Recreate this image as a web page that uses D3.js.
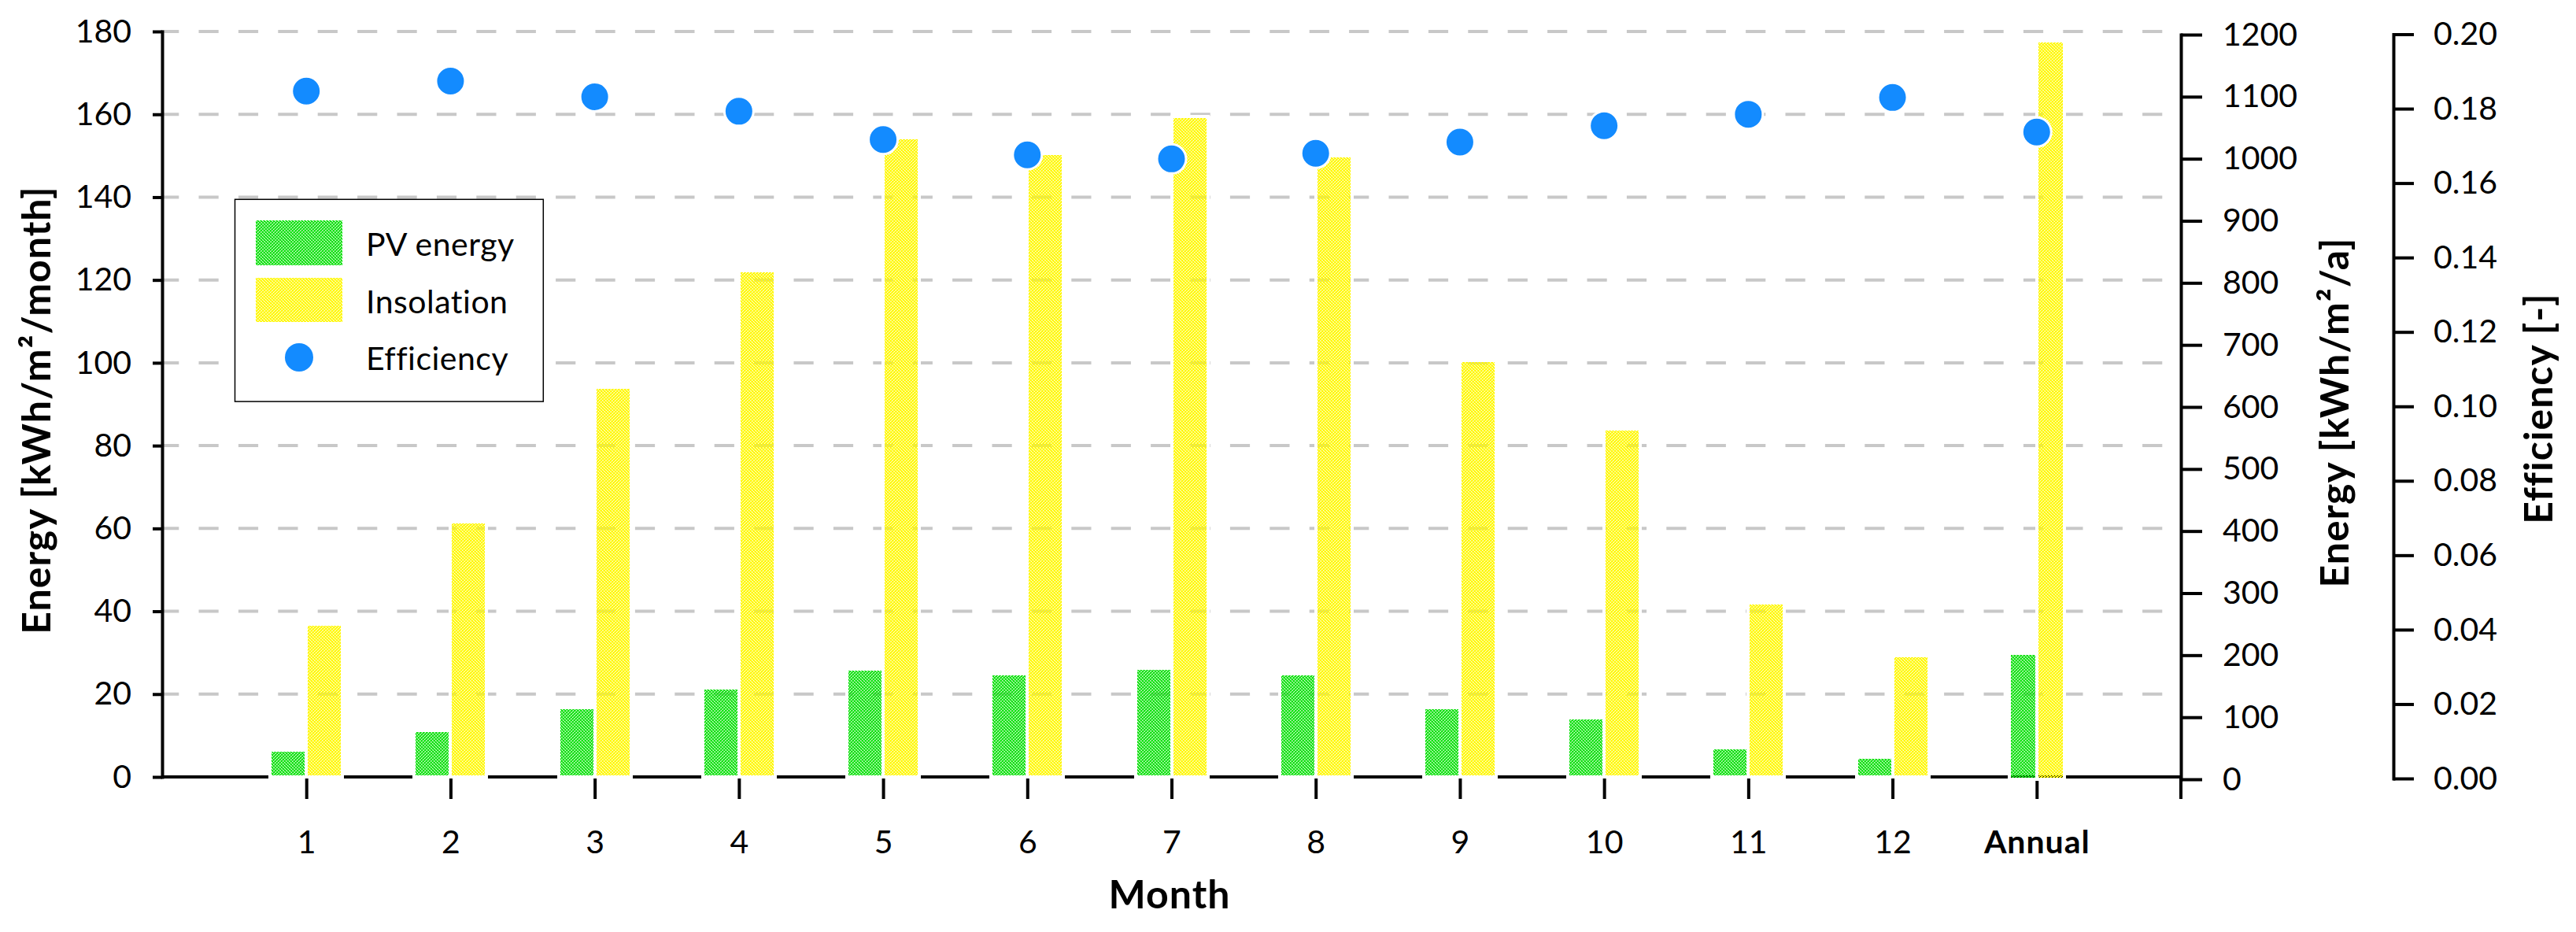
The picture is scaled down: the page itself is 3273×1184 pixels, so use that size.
<!DOCTYPE html>
<html><head><meta charset="utf-8">
<script src="https://cdn.jsdelivr.net/npm/d3@7"></script>
<style>
html,body{margin:0;padding:0;background:#fff;}
svg{display:block;}
text{font-family:Lato,"Open Sans",sans-serif;fill:#000;}
</style></head><body>
<svg id="chart" width="3273" height="1184"></svg>
<script>
// ---- data ----
const categories = ["1","2","3","4","5","6","7","8","9","10","11","12","Annual"];
const pvEnergy   = [6.4, 11.2, 16.8, 21.4, 26.1, 24.9, 26.2, 24.9, 16.8, 14.3, 7.0, 4.8, 203];
const insolation = [36.9, 61.5, 94.0, 122.2, 154.4, 150.5, 159.5, 150.0, 100.5, 84.0, 42.0, 29.3, 1190];
const efficiency = [0.1847, 0.1874, 0.1832, 0.1793, 0.1717, 0.1676, 0.1665, 0.1680, 0.1710, 0.1754, 0.1785, 0.1830, 0.1737];
const leftTicks = [0,20,40,60,80,100,120,140,160,180];
const rightEnergyTicks = [0,100,200,300,400,500,600,700,800,900,1000,1100,1200];
const efficiencyTicks = [0,0.02,0.04,0.06,0.08,0.10,0.12,0.14,0.16,0.18,0.20];
const seriesNames = ["PV energy","Insolation","Efficiency"];
const axisTitles = {left:"Energy [kWh/m²/month]", right:"Energy [kWh/m²/a]", eff:"Efficiency [-]", x:"Month"};

// ---- setup ----
const svg = d3.select("#chart");
svg.append("rect").attr("width",3273).attr("height",1184).attr("fill","#fff");
const FS = 41, TFS = 50;
const GREEN = "rgb(20,225,20)", YELLOW = "rgb(255,248,0)", BLUE = "#138bff";

const x  = d3.scalePoint().domain(categories).range([206,2771]).padding(1);
const yL = d3.scaleLinear().domain([0,180]).range([987,40]);
const yR = d3.scaleLinear().domain([0,1200]).range([990,44]);
const yE = d3.scaleLinear().domain([0,0.2]).range([989,43.5]);

// dither patterns (transparent holes)
const defs = svg.append("defs");
const mask = [[1,0,1,1],[1,1,0,1],[0,1,1,1],[1,1,1,0]];
function makePattern(id,color){
  const p = defs.append("pattern").attr("id",id).attr("patternUnits","userSpaceOnUse")
    .attr("width",4).attr("height",4);
  mask.forEach((row,r)=>row.forEach((m,c)=>{ if(m) p.append("rect").attr("x",c).attr("y",r)
    .attr("width",1).attr("height",1).attr("fill",color).attr("shape-rendering","crispEdges"); }));
}
makePattern("pg",GREEN); makePattern("py",YELLOW);

// grid
svg.append("g").selectAll("line").data(leftTicks.filter(t=>t>0)).join("line")
  .attr("x1",206).attr("x2",2771).attr("y1",d=>yL(d)).attr("y2",d=>yL(d))
  .attr("stroke","#c8c8c8").attr("stroke-width",4)
  .attr("stroke-dasharray","25.2 25.2").attr("stroke-dashoffset",3.9);

function styleAxis(g){
  g.select(".domain").attr("stroke","#000").attr("stroke-width",4).attr("stroke-linecap","square");
  g.selectAll(".tick line").attr("stroke","#000").attr("stroke-width",4);
  g.selectAll(".tick text").attr("font-size",FS).attr("font-family","Lato").attr("fill","#000");
}

// x axis
const xAxis = svg.append("g").attr("transform","translate(0,987)")
  .call(d3.axisBottom(x).tickSize(28).tickSizeOuter(0).tickPadding(40));
styleAxis(xAxis);
xAxis.select(".domain").attr("d","M206,0H2771").attr("stroke-linecap","butt");
xAxis.selectAll(".tick text").attr("font-weight",d=>d==="Annual"?"bold":"normal")
  .attr("letter-spacing",d=>d==="Annual"?1:0);

// left axis
const lAxis = svg.append("g").attr("transform","translate(206,0)")
  .call(d3.axisLeft(yL).tickValues(leftTicks).tickSize(12).tickSizeOuter(0).tickPadding(27).tickFormat(d3.format("d")));
styleAxis(lAxis);

// right energy axis
const rAxis = svg.append("g").attr("transform","translate(2771,0)")
  .call(d3.axisRight(yR).tickValues(rightEnergyTicks).tickSize(27).tickSizeOuter(0).tickPadding(26).tickFormat(d3.format("d")));
styleAxis(rAxis);
svg.append("line").attr("x1",2771).attr("x2",2771).attr("y1",987).attr("y2",1015)
  .attr("stroke","#000").attr("stroke-width",4);

// efficiency axis
const eAxis = svg.append("g").attr("transform","translate(3041,0)")
  .call(d3.axisRight(yE).tickValues(efficiencyTicks).tickSize(26).tickSizeOuter(0).tickPadding(25).tickFormat(d3.format(".2f")));
styleAxis(eAxis);

// bars
const rows = categories.map((c,i)=>({c, pv:pvEnergy[i], ins:insolation[i], eff:efficiency[i]}));
const yOf = d => d.c==="Annual" ? yR : yL;
const bw = d => d.c==="Annual" ? 35 : 46;
const bars = svg.append("g");
bars.selectAll("rect.pv").data(rows).join("rect").attr("class","pv")
  .attr("x",d=>x(d.c)-bw(d)).attr("width",bw)
  .attr("y",d=>yOf(d)(d.pv)).attr("height",d=>yOf(d)(0)-yOf(d)(d.pv))
  .attr("fill","url(#pg)").attr("stroke","#fff").attr("stroke-width",4).attr("shape-rendering","crispEdges");
bars.selectAll("rect.ins").data(rows).join("rect").attr("class","ins")
  .attr("x",d=>x(d.c)).attr("width",bw)
  .attr("y",d=>yOf(d)(d.ins)).attr("height",d=>yOf(d)(0)-yOf(d)(d.ins))
  .attr("fill","url(#py)").attr("stroke","#fff").attr("stroke-width",4).attr("shape-rendering","crispEdges");

// efficiency dots
svg.append("g").selectAll("circle").data(rows).join("circle")
  .attr("cx",d=>x(d.c)).attr("cy",d=>yE(d.eff)).attr("r",18.5)
  .attr("fill",BLUE).attr("stroke","#fff").attr("stroke-width",3);

// legend
const lg = svg.append("g");
lg.append("rect").attr("x",298.5).attr("y",253.3).attr("width",391.8).attr("height",256.8)
  .attr("fill","#fff").attr("stroke","#000").attr("stroke-width",1.5);
lg.append("rect").attr("x",325).attr("y",280).attr("width",110).attr("height",57).attr("fill","url(#pg)");
lg.append("rect").attr("x",325).attr("y",353).attr("width",110).attr("height",56).attr("fill","url(#py)");
lg.append("circle").attr("cx",380).attr("cy",454).attr("r",18).attr("fill",BLUE);
lg.selectAll("text").data(seriesNames).join("text")
  .attr("x",465).attr("y",(d,i)=>[324.5,398,470][i]).attr("font-size",FS).attr("letter-spacing",0.5).text(d=>d);

// axis titles
function title(tr, txt){
  return svg.append("text").attr("transform",tr).attr("text-anchor","middle")
    .attr("font-size",TFS).attr("font-weight","bold").attr("letter-spacing",1).text(txt);
}
title("translate(64,521) rotate(-90)", axisTitles.left);
title("translate(2984,524) rotate(-90)", axisTitles.right);
title("translate(3243,519) rotate(-90)", axisTitles.eff);
title("translate(1486,1154)", axisTitles.x);
</script>
</body></html>
